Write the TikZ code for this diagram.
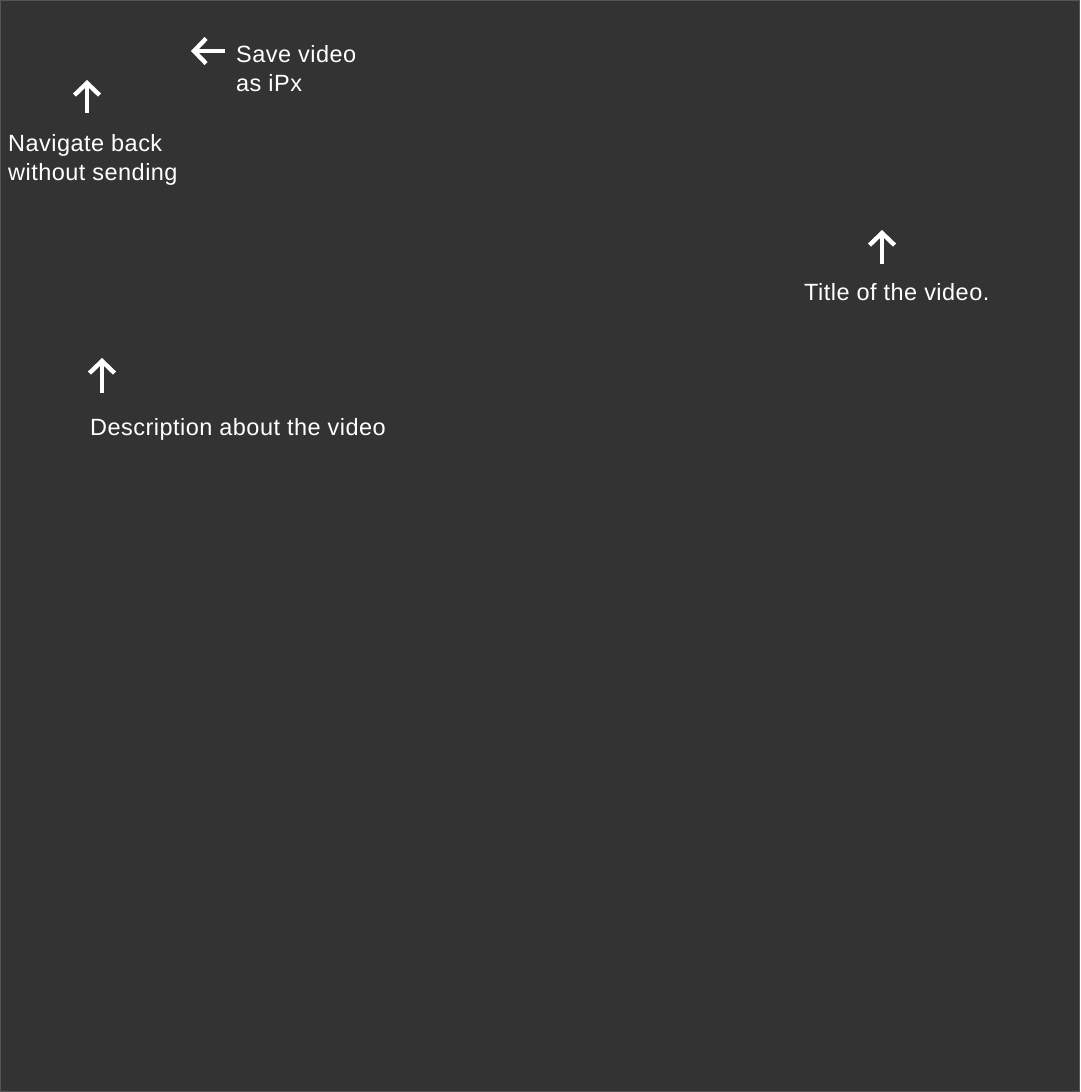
\documentclass[tikz,border=0pt]{standalone}
\usepackage{fontspec}
\setmainfont{Liberation Sans}[LetterSpace=2]
\usetikzlibrary{arrows.meta}
\definecolor{bgdark}{HTML}{333333}
\definecolor{bgedge}{HTML}{555555}
\begin{document}
\begin{tikzpicture}[x=1pt,y=1pt,
  lbl/.style={anchor=base west,inner sep=0pt,text=white,font=\fontsize{23.5}{29}\selectfont,align=left},
  pointer/.style={draw=white,line width=4.6pt,-{Straight Barb[length=12pt,width=25pt,line width=4.4pt]}}]
\fill[bgdark] (0,0) rectangle (1080,-1092);
\draw[bgedge,line width=1pt] (0.5,-0.5) rectangle (1079.5,-1091.5);
\useasboundingbox (0,0) rectangle (1080,-1092);
% Save video
\node[lbl] (save) at (236,-91) {Save video\\as iPx};
\coordinate (saveS) at (225,-51);
\coordinate (saveE) at (191,-51);
\draw[pointer] (saveS) -- (saveE);
% Navigate back
\node[lbl] (nav) at (8,-180) {Navigate back\\without sending};
\coordinate (navS) at (87,-113);
\coordinate (navE) at (87,-80);
\draw[pointer] (navS) -- (navE);
% Title
\node[lbl] (title) at (804,-300) {Title of the video.};
\coordinate (titS) at (882,-264);
\coordinate (titE) at (882,-230);
\draw[pointer] (titS) -- (titE);
% Description
\node[lbl] (desc) at (90,-435) {Description about the video};
\coordinate (desS) at (102,-393);
\coordinate (desE) at (102,-358);
\draw[pointer] (desS) -- (desE);
\end{tikzpicture}
\end{document}
